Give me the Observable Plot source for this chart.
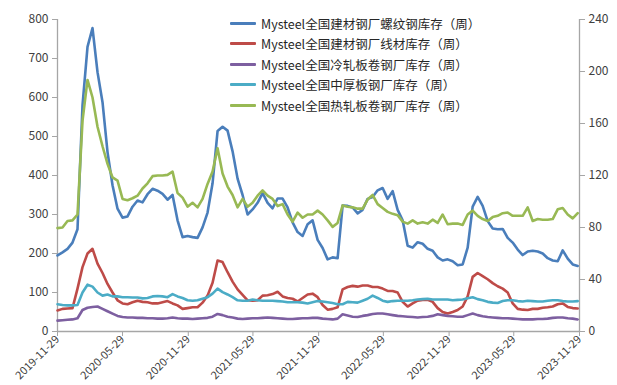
<!DOCTYPE html>
<html>
<head>
<meta charset="utf-8">
<script src="https://cdn.jsdelivr.net/npm/d3@7"></script>
<script src="https://cdn.jsdelivr.net/npm/@observablehq/plot@0.6"></script>
<style>
  body { margin: 0; background: #fff; }
  #wrap { position: relative; width: 617px; height: 385px; font-family: "Noto Sans CJK SC", sans-serif; }
  #legend { position: absolute; left: 230px; top: 13px; }
  .row { display: flex; align-items: center; height: 20.5px; font-size: 12.5px; color: #262626; white-space: nowrap; }
  .sw { width: 26px; height: 3px; margin-right: 5px; border-radius: 1px; }
  .xaxis text { font-size: 11px; }
</style>
</head>
<body>
<div id="wrap"><div id="legend"></div></div>
<script>
// Fortnightly readings starting 2019-11-29
const startDate = "2019-11-29";
const stepDays = 14;

// 螺纹钢 (left axis, 万吨)
const rebar = [195,203,212,228,262,580,730,778,665,588,
  460,375,315,292,295,320,336,331,352,366,
  361,353,338,350,285,242,245,242,240,267,
  305,380,514,525,515,462,392,350,300,313,
  330,355,330,316,341,341,318,280,255,245,
  275,285,235,214,185,190,188,323,322,318,
  303,312,340,345,362,368,340,360,312,285,
  220,215,229,225,212,207,190,182,185,180,
  170,172,215,320,345,322,283,264,262,263,
  240,228,210,196,205,207,205,200,188,182,
  180,208,187,172,168];

// 线材 (left axis)
const wireRod = [54,58,59,60,110,165,200,212,174,150,
  122,100,80,72,70,75,79,76,75,72,
  72,75,78,72,67,58,60,62,62,74,
  92,125,182,178,152,128,108,94,80,79,
  80,92,93,96,102,90,86,84,77,86,
  95,97,88,68,56,58,62,108,114,117,
  115,118,118,114,114,110,104,104,100,76,
  64,72,79,81,81,76,60,50,46,50,
  55,64,90,140,150,142,134,124,116,110,
  100,72,58,56,55,58,58,61,62,64,
  70,72,63,60,59];

// 冷轧板卷 (left axis)
const coldRolled = [28,29,30,31,34,55,61,63,64,58,
  52,46,40,37,36,36,35,35,34,34,
  33,33,34,36,34,33,33,32,33,34,
  35,38,45,42,38,36,33,32,33,34,
  34,35,36,35,34,33,32,32,33,34,
  34,35,35,33,32,31,33,44,41,38,
  37,40,42,45,46,46,44,42,40,39,
  38,37,36,37,38,40,44,42,40,39,
  38,38,42,46,42,39,37,36,35,34,
  34,33,32,31,31,31,32,32,33,35,
  36,36,34,33,31];

// 中厚板 (left axis)
const plate = [70,68,67,67,68,100,120,115,100,92,
  95,90,90,88,88,87,87,85,86,90,
  91,90,88,96,90,86,80,79,80,84,
  88,97,110,101,95,88,80,79,79,82,
  80,79,79,79,78,77,75,75,75,74,
  72,75,78,77,75,73,70,70,76,75,
  74,79,84,92,86,79,76,78,79,79,
  79,80,82,83,84,82,82,82,82,80,
  81,82,85,88,83,80,76,74,73,78,
  80,80,78,77,79,78,77,77,79,80,
  80,78,77,77,78];

// 热轧板卷 (right axis)
const hotRolled = [79.5,80,85,85.5,90,162,193.5,180,157.5,142.5,
  129,118.5,116,102,101,102.5,104.5,110,114,119.5,
  120,120,120.5,123,106.5,103,96,99,95.5,102,
  113.5,123,141,121.5,111.5,105,95.5,102,96,99,
  104.5,108.5,104.5,102,96.5,98,90,84.5,91.5,87.5,
  90,90,93,90,85.5,80.5,83.5,97,96,95.5,
  94.5,94.5,101.5,105,98,95,92,90.5,89.5,84.5,
  83,85.5,83,84,83,86,83.5,90,82.5,83,
  83,82,90,93,89,86.5,85,88,89,91,
  91.5,89,89,89,95.5,85,86.5,86,86,86.5,
  94,95,90,87,91];

const seriesNames = [
  "Mysteel全国建材钢厂螺纹钢库存（周）",
  "Mysteel全国建材钢厂线材库存（周）",
  "Mysteel全国冷轧板卷钢厂库存（周）",
  "Mysteel全国中厚板钢厂库存（周）",
  "Mysteel全国热轧板卷钢厂库存（周）"
];
const seriesColors = ["#4a7ebb", "#be4b48", "#7d5fa0", "#4bacc6", "#98b954"];
const seriesValues = [rebar, wireRod, coldRolled, plate, hotRolled];
const onRightAxis = [false, false, false, false, true];

const leftTicks = [0, 100, 200, 300, 400, 500, 600, 700, 800];
const rightTicks = [0, 40, 80, 120, 160, 200, 240];
const xTickLabels = ["2019-11-29","2020-05-29","2020-11-29","2021-05-29","2021-11-29",
  "2022-05-29","2022-11-29","2023-05-29","2023-11-29"];

const leftMax = 800, rightMax = 240;
const toLeft = v => v * leftMax / rightMax;
const parse = d3.utcParse("%Y-%m-%d");
const start = parse(startDate);

const rows = [];
seriesValues.forEach((vals, s) => {
  vals.forEach((v, i) => {
    rows.push({
      date: d3.utcDay.offset(start, i * stepDays),
      name: seriesNames[s],
      value: v,
      y: onRightAxis[s] ? toLeft(v) : v
    });
  });
});

const xDomain = [parse(xTickLabels[0]), parse(xTickLabels[xTickLabels.length - 1])];
const axisGray = "#a6a6a6";
const textGray = "#404040";

const chart = Plot.plot({
  width: 617,
  height: 385,
  marginLeft: 57,
  marginRight: 38,
  marginTop: 19,
  marginBottom: 54,
  style: { fontFamily: "'Noto Sans CJK SC', sans-serif", fontSize: "12px", background: "#fff" },
  x: { type: "utc", domain: xDomain },
  y: { domain: [0, leftMax] },
  color: { domain: seriesNames, range: seriesColors },
  marks: [
    Plot.ruleY([0], { stroke: axisGray, strokeWidth: 1.3 }),
    Plot.ruleX([xDomain[0]], { y1: 0, y2: leftMax, stroke: axisGray, strokeWidth: 1.3 }),
    Plot.ruleX([xDomain[1]], { y1: 0, y2: leftMax, stroke: axisGray, strokeWidth: 1.3 }),
    Plot.axisY(leftTicks, { anchor: "left", label: null, tickSize: 5, tickPadding: 4, stroke: axisGray, fill: textGray }),
    Plot.axisY(rightTicks, { anchor: "right", label: null, y: d => toLeft(d), tickFormat: d => d, tickSize: 5, tickPadding: 4, stroke: axisGray, fill: textGray }),
    Plot.axisX(xTickLabels.map(parse), { anchor: "bottom", label: null, tickRotate: -45, tickSize: 5, tickPadding: 1, fontSize: 11, tickFormat: d3.utcFormat("%Y-%m-%d"), stroke: axisGray, fill: textGray }),
    Plot.line(rows, { x: "date", y: "y", z: "name", stroke: "name", strokeWidth: 2.6, curve: "linear" })
  ]
});

const wrap = document.getElementById("wrap");
wrap.insertBefore(chart, wrap.firstChild);
chart.style.position = "absolute";
chart.style.left = "0";
chart.style.top = "0";

const legend = document.getElementById("legend");
seriesNames.forEach((name, s) => {
  const row = document.createElement("div");
  row.className = "row";
  const sw = document.createElement("div");
  sw.className = "sw";
  sw.style.background = seriesColors[s];
  const label = document.createElement("span");
  label.textContent = name;
  row.appendChild(sw);
  row.appendChild(label);
  legend.appendChild(row);
});
</script>
</body>
</html>
